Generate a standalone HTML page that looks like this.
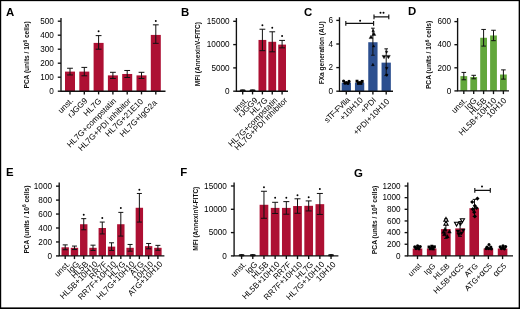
<!DOCTYPE html>
<html><head><meta charset="utf-8"><title>Figure</title>
<style>
html,body{margin:0;padding:0;background:#fff;}
body{width:520px;height:309px;overflow:hidden;position:relative;}
svg{position:absolute;left:0;top:0;display:block;will-change:transform;}
text{font-family:"Liberation Sans",sans-serif;fill:#000;}
.pl{font-size:11.4px;font-weight:bold;fill:#000;}
.tk{font-size:8.2px;text-anchor:end;}
.xl{font-size:8.2px;text-anchor:end;}
.yl{font-size:7.3px;text-anchor:middle;font-weight:bold;fill:#111;}
.st{font-size:7.4px;text-anchor:middle;font-weight:bold;fill:#000;}
.ax{stroke:#111;stroke-width:1.35;fill:none;}
.eb{stroke:#111;stroke-width:1.0;fill:none;}
.sg{stroke:#111;stroke-width:1.15;fill:none;}
</style></head><body>
<svg width="520" height="309" viewBox="0 0 520 309">
<rect x="0" y="0" width="520" height="309" fill="#fff"/>
<text x="6.0" y="15.7" class="pl">A</text>
<rect x="65.00" y="71.60" width="10.00" height="19.60" fill="#ad1033"/>
<path d="M70.00 68.24V74.96M67.10 68.24H72.90M67.10 74.96H72.90" class="eb"/>
<path d="M70.00 91.2v3.2" class="ax"/>
<text x="73.80" y="101.20" class="xl" transform="rotate(-45 73.80 101.20)">unst.</text>
<rect x="79.30" y="71.60" width="10.00" height="19.60" fill="#ad1033"/>
<path d="M84.30 67.40V75.80M81.40 67.40H87.20M81.40 75.80H87.20" class="eb"/>
<path d="M84.30 91.2v3.2" class="ax"/>
<text x="88.10" y="101.20" class="xl" transform="rotate(-45 88.10 101.20)">rJGG9</text>
<rect x="93.60" y="42.90" width="10.00" height="48.30" fill="#ad1033"/>
<path d="M98.60 35.62V49.20M95.70 35.62H101.50M95.70 49.20H101.50" class="eb"/>
<circle cx="98.60" cy="31.30" r="0.95" fill="#000"/>
<path d="M98.60 91.2v3.2" class="ax"/>
<text x="101.90" y="101.50" class="xl" transform="rotate(-45 101.90 101.50)">HL7G</text>
<rect x="107.90" y="75.38" width="10.00" height="15.82" fill="#ad1033"/>
<path d="M112.90 72.30V78.46M110.00 72.30H115.80M110.00 78.46H115.80" class="eb"/>
<path d="M112.90 91.2v3.2" class="ax"/>
<text x="116.70" y="101.50" class="xl" transform="rotate(-45 116.70 101.50)">HL7G+compstatin</text>
<rect x="122.20" y="73.98" width="10.00" height="17.22" fill="#ad1033"/>
<path d="M127.20 70.48V77.48M124.30 70.48H130.10M124.30 77.48H130.10" class="eb"/>
<path d="M127.20 91.2v3.2" class="ax"/>
<text x="131.50" y="101.50" class="xl" transform="rotate(-45 131.50 101.50)">HL7G+PDI inhibitor</text>
<rect x="136.50" y="75.38" width="10.00" height="15.82" fill="#ad1033"/>
<path d="M141.50 72.30V78.46M138.60 72.30H144.40M138.60 78.46H144.40" class="eb"/>
<path d="M141.50 91.2v3.2" class="ax"/>
<text x="143.80" y="102.00" class="xl" transform="rotate(-45 143.80 102.00)">HL7G+21E10</text>
<rect x="150.80" y="34.92" width="10.00" height="56.28" fill="#ad1033"/>
<path d="M155.80 24.84V43.32M152.90 24.84H158.70M152.90 43.32H158.70" class="eb"/>
<circle cx="155.80" cy="21.00" r="0.95" fill="#000"/>
<path d="M155.80 91.2v3.2" class="ax"/>
<text x="157.40" y="103.20" class="xl" transform="rotate(-45 157.40 103.20)">HL7G+IgG2a</text>
<path d="M61 18V91.2H165.5" class="ax"/>
<path d="M57.8 91.20H61" class="ax"/>
<text x="53.8" y="93.90" class="tk">0</text>
<path d="M57.8 77.20H61" class="ax"/>
<text x="53.8" y="79.90" class="tk">100</text>
<path d="M57.8 63.20H61" class="ax"/>
<text x="53.8" y="65.90" class="tk">200</text>
<path d="M57.8 49.20H61" class="ax"/>
<text x="53.8" y="51.90" class="tk">300</text>
<path d="M57.8 35.20H61" class="ax"/>
<text x="53.8" y="37.90" class="tk">400</text>
<path d="M57.8 21.20H61" class="ax"/>
<text x="53.8" y="23.90" class="tk">500</text>
<g transform="translate(29.3 54.9) rotate(-90)"><text class="yl" x="0" y="0" textLength="67.2" lengthAdjust="spacingAndGlyphs">PCA (units / 10<tspan dy="-2.6" font-size="5.2">6</tspan><tspan dy="2.6"> cells)</tspan></text></g>

<text x="180.9" y="15.7" class="pl">B</text>
<ellipse cx="242.70" cy="90.50" rx="3.1" ry="1.25" fill="#111"/>
<path d="M242.70 91.2v3.2" class="ax"/>
<text x="248.50" y="100.80" class="xl" transform="rotate(-45 248.50 100.80)">unst.</text>
<ellipse cx="252.55" cy="90.50" rx="3.1" ry="1.25" fill="#111"/>
<path d="M252.55 91.2v3.2" class="ax"/>
<text x="258.35" y="100.80" class="xl" transform="rotate(-45 258.35 100.80)">rJGG9</text>
<rect x="258.50" y="39.94" width="7.80" height="51.26" fill="#ad1033"/>
<path d="M262.40 29.22V50.66M259.50 29.22H265.30M259.50 50.66H265.30" class="eb"/>
<circle cx="262.40" cy="25.20" r="0.95" fill="#000"/>
<path d="M262.40 91.2v3.2" class="ax"/>
<text x="268.20" y="100.80" class="xl" transform="rotate(-45 268.20 100.80)">HL7G</text>
<rect x="268.35" y="41.80" width="7.80" height="49.40" fill="#ad1033"/>
<path d="M272.25 31.79V51.82M269.35 31.79H275.15M269.35 51.82H275.15" class="eb"/>
<circle cx="272.25" cy="27.80" r="0.95" fill="#000"/>
<path d="M272.25 91.2v3.2" class="ax"/>
<text x="278.05" y="100.80" class="xl" transform="rotate(-45 278.05 100.80)">HL7G+compstatin</text>
<rect x="278.20" y="44.60" width="7.80" height="46.60" fill="#ad1033"/>
<path d="M282.10 40.41V47.86M279.20 40.41H285.00M279.20 47.86H285.00" class="eb"/>
<circle cx="282.10" cy="36.00" r="0.95" fill="#000"/>
<path d="M282.10 91.2v3.2" class="ax"/>
<text x="287.90" y="100.80" class="xl" transform="rotate(-45 287.90 100.80)">HL7G+PDI inhibitor</text>
<path d="M236.4 18V91.2H288" class="ax"/>
<path d="M233.20000000000002 91.20H236.4" class="ax"/>
<text x="229.6" y="93.90" class="tk">0</text>
<path d="M233.20000000000002 67.90H236.4" class="ax"/>
<text x="229.6" y="70.60" class="tk">5000</text>
<path d="M233.20000000000002 44.60H236.4" class="ax"/>
<text x="229.6" y="47.30" class="tk">10000</text>
<path d="M233.20000000000002 21.30H236.4" class="ax"/>
<text x="229.6" y="24.00" class="tk">15000</text>
<g transform="translate(199.5 54.2) rotate(-90)"><text class="yl" x="0" y="0" textLength="64.2" lengthAdjust="spacingAndGlyphs">MFI (AnnexinV-FITC)</text></g>

<text x="304.0" y="15.8" class="pl">C</text>
<rect x="341.65" y="82.70" width="9.30" height="8.50" fill="#2c4f8f"/>
<path d="M346.30 91.2v3.2" class="ax"/>
<text x="350.10" y="100.60" class="xl" transform="rotate(-45 350.10 100.60)"><tspan letter-spacing="-0.5">sTF-FVIIa</tspan></text>
<rect x="354.95" y="82.70" width="9.30" height="8.50" fill="#2c4f8f"/>
<path d="M359.60 91.2v3.2" class="ax"/>
<text x="363.40" y="100.60" class="xl" transform="rotate(-45 363.40 100.60)">+10H10</text>
<rect x="368.25" y="42.23" width="9.30" height="48.97" fill="#2c4f8f"/>
<path d="M372.90 28.19V55.21M371.10 28.19H374.70M371.10 55.21H374.70" class="eb"/>
<path d="M372.90 91.2v3.2" class="ax"/>
<text x="376.70" y="100.60" class="xl" transform="rotate(-45 376.70 100.60)">+PDI</text>
<rect x="381.55" y="62.64" width="9.30" height="28.56" fill="#2c4f8f"/>
<path d="M386.20 48.84V75.62M384.40 48.84H388.00M384.40 75.62H388.00" class="eb"/>
<path d="M386.20 91.2v3.2" class="ax"/>
<text x="390.00" y="102.10" class="xl" transform="rotate(-45 390.00 102.10)">+PDI+10H10</text>
<path d="M339.5 17.2V91.2H393" class="ax"/>
<path d="M336.3 91.20H339.5" class="ax"/>
<text x="333.1" y="93.90" class="tk">0</text>
<path d="M336.3 67.60H339.5" class="ax"/>
<text x="333.1" y="70.30" class="tk">2</text>
<path d="M336.3 44.00H339.5" class="ax"/>
<text x="333.1" y="46.70" class="tk">4</text>
<path d="M336.3 20.40H339.5" class="ax"/>
<text x="333.1" y="23.10" class="tk">6</text>
<g transform="translate(323.5 52.8) rotate(-90)"><text class="yl" x="0" y="0" textLength="63" lengthAdjust="spacingAndGlyphs">FXa generation (AU)</text></g>
<path d="M345.8 23.4H373.6M345.8 21.0V25.799999999999997M373.6 21.0V25.799999999999997" class="sg"/><circle cx="360.10" cy="20.70" r="1.0" fill="#000"/><path d="M374.0 16.8H388.8M374.0 14.4V19.2M388.8 14.4V19.2" class="sg"/><circle cx="380.50" cy="12.70" r="1.0" fill="#000"/><circle cx="383.50" cy="12.70" r="1.0" fill="#000"/><circle cx="343.60" cy="81.00" r="1.6" fill="#000"/><circle cx="346.30" cy="82.60" r="1.6" fill="#000"/><circle cx="349.00" cy="81.40" r="1.6" fill="#000"/><circle cx="345.00" cy="83.20" r="1.6" fill="#000"/><circle cx="348.00" cy="83.40" r="1.6" fill="#000"/><rect x="355.55" y="79.75" width="2.9" height="2.9" fill="#000"/><rect x="358.15" y="81.15" width="2.9" height="2.9" fill="#000"/><rect x="360.75" y="79.95" width="2.9" height="2.9" fill="#000"/><rect x="356.95" y="81.95" width="2.9" height="2.9" fill="#000"/><rect x="359.55" y="81.95" width="2.9" height="2.9" fill="#000"/><path d="M373.90 32.00L375.80 35.42H372.00Z" fill="#000" stroke="#000" stroke-width="0.4"/><path d="M371.00 35.20L372.90 38.62H369.10Z" fill="#000" stroke="#000" stroke-width="0.4"/><path d="M373.20 29.30L374.50 31.64H371.90Z" fill="#000" stroke="#000" stroke-width="0.4"/><path d="M372.90 63.20L374.30 65.72H371.50Z" fill="#000" stroke="#000" stroke-width="0.4"/><path d="M373.60 44.80L374.80 46.96H372.40Z" fill="#000" stroke="#000" stroke-width="0.4"/><path d="M384.00 58.80L385.90 55.38H382.10Z" fill="#000" stroke="#000" stroke-width="0.4"/><path d="M388.40 58.80L390.30 55.38H386.50Z" fill="#000" stroke="#000" stroke-width="0.4"/><path d="M386.60 53.50L387.90 51.16H385.30Z" fill="#000" stroke="#000" stroke-width="0.4"/><path d="M386.70 69.80L388.10 67.28H385.30Z" fill="#000" stroke="#000" stroke-width="0.4"/><path d="M386.70 76.60L388.10 74.08H385.30Z" fill="#000" stroke="#000" stroke-width="0.4"/>
<text x="408.0" y="15.4" class="pl">D</text>
<rect x="460.40" y="76.12" width="6.80" height="14.78" fill="#62a73b"/>
<path d="M463.80 72.42V79.81M461.50 72.42H466.10M461.50 79.81H466.10" class="eb"/>
<path d="M463.80 90.9v3.2" class="ax"/>
<text x="467.30" y="101.10" class="xl" transform="rotate(-45 467.30 101.10)">unst.</text>
<rect x="470.30" y="77.04" width="6.80" height="13.86" fill="#62a73b"/>
<path d="M473.70 75.31V78.77M471.40 75.31H476.00M471.40 78.77H476.00" class="eb"/>
<path d="M473.70 90.9v3.2" class="ax"/>
<text x="477.20" y="101.10" class="xl" transform="rotate(-45 477.20 101.10)">IgG</text>
<rect x="480.20" y="37.77" width="6.80" height="53.13" fill="#62a73b"/>
<path d="M483.60 29.45V46.09M481.30 29.45H485.90M481.30 46.09H485.90" class="eb"/>
<path d="M483.60 90.9v3.2" class="ax"/>
<text x="487.10" y="101.10" class="xl" transform="rotate(-45 487.10 101.10)">HL5B</text>
<rect x="490.10" y="35.46" width="6.80" height="55.44" fill="#62a73b"/>
<path d="M493.50 30.26V40.66M491.20 30.26H495.80M491.20 40.66H495.80" class="eb"/>
<path d="M493.50 90.9v3.2" class="ax"/>
<text x="497.00" y="101.10" class="xl" transform="rotate(-45 497.00 101.10)">HL5B+10H10</text>
<rect x="500.00" y="74.50" width="6.80" height="16.40" fill="#62a73b"/>
<path d="M503.40 69.88V79.12M501.10 69.88H505.70M501.10 79.12H505.70" class="eb"/>
<path d="M503.40 90.9v3.2" class="ax"/>
<text x="506.90" y="101.10" class="xl" transform="rotate(-45 506.90 101.10)">10H10</text>
<path d="M457.6 18V90.9H509" class="ax"/>
<path d="M454.40000000000003 90.90H457.6" class="ax"/>
<text x="451.20000000000005" y="93.60" class="tk">0</text>
<path d="M454.40000000000003 67.80H457.6" class="ax"/>
<text x="451.20000000000005" y="70.50" class="tk">200</text>
<path d="M454.40000000000003 44.70H457.6" class="ax"/>
<text x="451.20000000000005" y="47.40" class="tk">400</text>
<path d="M454.40000000000003 21.60H457.6" class="ax"/>
<text x="451.20000000000005" y="24.30" class="tk">600</text>
<g transform="translate(431.3 54.9) rotate(-90)"><text class="yl" x="0" y="0" textLength="68.4" lengthAdjust="spacingAndGlyphs">PCA (units / 10<tspan dy="-2.6" font-size="5.2">6</tspan><tspan dy="2.6"> cells)</tspan></text></g>

<text x="6.0" y="175.9" class="pl">E</text>
<rect x="61.50" y="247.32" width="7.40" height="8.58" fill="#ad1033"/>
<path d="M65.20 244.88V249.76M62.70 244.88H67.70M62.70 249.76H67.70" class="eb"/>
<path d="M65.20 255.9v3.2" class="ax"/>
<text x="70.40" y="264.60" class="xl" transform="rotate(-45 70.40 264.60)">unst.</text>
<rect x="70.77" y="247.81" width="7.40" height="8.09" fill="#ad1033"/>
<path d="M74.47 246.07V249.55M71.97 246.07H76.97M71.97 249.55H76.97" class="eb"/>
<path d="M74.47 255.9v3.2" class="ax"/>
<text x="79.67" y="264.60" class="xl" transform="rotate(-45 79.67 264.60)">IgG</text>
<rect x="80.04" y="224.23" width="7.40" height="31.67" fill="#ad1033"/>
<path d="M83.74 218.65V229.81M81.24 218.65H86.24M81.24 229.81H86.24" class="eb"/>
<circle cx="83.74" cy="214.70" r="0.95" fill="#000"/>
<path d="M83.74 255.9v3.2" class="ax"/>
<text x="88.94" y="264.60" class="xl" transform="rotate(-45 88.94 264.60)">HL5B</text>
<rect x="89.31" y="247.81" width="7.40" height="8.09" fill="#ad1033"/>
<path d="M93.01 245.16V250.46M90.51 245.16H95.51M90.51 250.46H95.51" class="eb"/>
<path d="M93.01 255.9v3.2" class="ax"/>
<text x="98.21" y="264.60" class="xl" transform="rotate(-45 98.21 264.60)">HL5B+10H10</text>
<rect x="98.58" y="228.00" width="7.40" height="27.90" fill="#ad1033"/>
<path d="M102.28 222.07V233.93M99.78 222.07H104.78M99.78 233.93H104.78" class="eb"/>
<circle cx="102.28" cy="218.00" r="0.95" fill="#000"/>
<path d="M102.28 255.9v3.2" class="ax"/>
<text x="107.48" y="264.60" class="xl" transform="rotate(-45 107.48 264.60)">RR7F</text>
<rect x="107.85" y="246.62" width="7.40" height="9.28" fill="#ad1033"/>
<path d="M111.55 242.79V250.46M109.05 242.79H114.05M109.05 250.46H114.05" class="eb"/>
<path d="M111.55 255.9v3.2" class="ax"/>
<text x="116.75" y="264.60" class="xl" transform="rotate(-45 116.75 264.60)">RR7F+10H10</text>
<rect x="117.12" y="224.23" width="7.40" height="31.67" fill="#ad1033"/>
<path d="M120.82 212.38V236.09M118.32 212.38H123.32M118.32 236.09H123.32" class="eb"/>
<circle cx="120.82" cy="208.00" r="0.95" fill="#000"/>
<path d="M120.82 255.9v3.2" class="ax"/>
<text x="126.02" y="264.60" class="xl" transform="rotate(-45 126.02 264.60)">HL7G</text>
<rect x="126.39" y="247.81" width="7.40" height="8.09" fill="#ad1033"/>
<path d="M130.09 244.46V251.16M127.59 244.46H132.59M127.59 251.16H132.59" class="eb"/>
<path d="M130.09 255.9v3.2" class="ax"/>
<text x="135.29" y="264.60" class="xl" transform="rotate(-45 135.29 264.60)">HL7G+10H10</text>
<rect x="135.66" y="207.77" width="7.40" height="48.13" fill="#ad1033"/>
<path d="M139.36 193.47V222.07M136.86 193.47H141.86M136.86 222.07H141.86" class="eb"/>
<circle cx="139.36" cy="189.70" r="0.95" fill="#000"/>
<path d="M139.36 255.9v3.2" class="ax"/>
<text x="144.56" y="264.60" class="xl" transform="rotate(-45 144.56 264.60)">ATG</text>
<rect x="144.93" y="246.13" width="7.40" height="9.77" fill="#ad1033"/>
<path d="M148.63 243.48V248.79M146.13 243.48H151.13M146.13 248.79H151.13" class="eb"/>
<path d="M148.63 255.9v3.2" class="ax"/>
<text x="153.83" y="264.60" class="xl" transform="rotate(-45 153.83 264.60)">10H10</text>
<rect x="154.20" y="247.81" width="7.40" height="8.09" fill="#ad1033"/>
<path d="M157.90 245.37V250.25M155.40 245.37H160.40M155.40 250.25H160.40" class="eb"/>
<path d="M157.90 255.9v3.2" class="ax"/>
<text x="163.10" y="264.60" class="xl" transform="rotate(-45 163.10 264.60)">ATG+10H10</text>
<path d="M59.2 182.6V255.9H164.4" class="ax"/>
<path d="M56.0 255.90H59.2" class="ax"/>
<text x="52.0" y="258.60" class="tk">0</text>
<path d="M56.0 241.95H59.2" class="ax"/>
<text x="52.0" y="244.65" class="tk">200</text>
<path d="M56.0 228.00H59.2" class="ax"/>
<text x="52.0" y="230.70" class="tk">400</text>
<path d="M56.0 214.05H59.2" class="ax"/>
<text x="52.0" y="216.75" class="tk">600</text>
<path d="M56.0 200.10H59.2" class="ax"/>
<text x="52.0" y="202.80" class="tk">800</text>
<path d="M56.0 186.15H59.2" class="ax"/>
<text x="52.0" y="188.85" class="tk">1000</text>
<g transform="translate(28.5 219.6) rotate(-90)"><text class="yl" x="0" y="0" textLength="68" lengthAdjust="spacingAndGlyphs">PCA (units / 10<tspan dy="-2.6" font-size="5.2">6</tspan><tspan dy="2.6"> cells)</tspan></text></g>

<text x="180.2" y="175.9" class="pl">F</text>
<ellipse cx="241.60" cy="255.20" rx="3.1" ry="1.25" fill="#111"/>
<path d="M241.60 255.9v3.2" class="ax"/>
<text x="246.80" y="264.90" class="xl" transform="rotate(-45 246.80 264.90)">unst.</text>
<ellipse cx="252.78" cy="255.20" rx="3.1" ry="1.25" fill="#111"/>
<path d="M252.78 255.9v3.2" class="ax"/>
<text x="257.98" y="264.90" class="xl" transform="rotate(-45 257.98 264.90)">IgG</text>
<rect x="259.61" y="204.78" width="8.70" height="51.12" fill="#ad1033"/>
<path d="M263.96 191.27V218.29M260.96 191.27H266.96M260.96 218.29H266.96" class="eb"/>
<circle cx="263.96" cy="187.20" r="0.95" fill="#000"/>
<path d="M263.96 255.9v3.2" class="ax"/>
<text x="269.16" y="264.90" class="xl" transform="rotate(-45 269.16 264.90)">HL5B</text>
<rect x="270.79" y="207.90" width="8.70" height="48.00" fill="#ad1033"/>
<path d="M275.14 202.31V213.49M272.14 202.31H278.14M272.14 213.49H278.14" class="eb"/>
<circle cx="275.14" cy="197.80" r="0.95" fill="#000"/>
<path d="M275.14 255.9v3.2" class="ax"/>
<text x="280.34" y="264.90" class="xl" transform="rotate(-45 280.34 264.90)">HL5B+10H10</text>
<rect x="281.97" y="207.90" width="8.70" height="48.00" fill="#ad1033"/>
<path d="M286.32 201.61V214.19M283.32 201.61H289.32M283.32 214.19H289.32" class="eb"/>
<circle cx="286.32" cy="197.80" r="0.95" fill="#000"/>
<path d="M286.32 255.9v3.2" class="ax"/>
<text x="291.52" y="264.90" class="xl" transform="rotate(-45 291.52 264.90)">RR7F</text>
<rect x="293.15" y="206.04" width="8.70" height="49.86" fill="#ad1033"/>
<path d="M297.50 198.81V213.26M294.50 198.81H300.50M294.50 213.26H300.50" class="eb"/>
<circle cx="297.50" cy="195.30" r="0.95" fill="#000"/>
<path d="M297.50 255.9v3.2" class="ax"/>
<text x="302.70" y="264.90" class="xl" transform="rotate(-45 302.70 264.90)">RR7F+10H10</text>
<rect x="304.33" y="205.81" width="8.70" height="50.09" fill="#ad1033"/>
<path d="M308.68 200.91V210.93M305.68 200.91H311.68M305.68 210.93H311.68" class="eb"/>
<circle cx="308.68" cy="197.30" r="0.95" fill="#000"/>
<path d="M308.68 255.9v3.2" class="ax"/>
<text x="313.88" y="264.90" class="xl" transform="rotate(-45 313.88 264.90)">HL7G</text>
<rect x="315.51" y="204.17" width="8.70" height="51.73" fill="#ad1033"/>
<path d="M319.86 193.46V214.43M316.86 193.46H322.86M316.86 214.43H322.86" class="eb"/>
<circle cx="319.86" cy="189.00" r="0.95" fill="#000"/>
<path d="M319.86 255.9v3.2" class="ax"/>
<text x="325.06" y="264.90" class="xl" transform="rotate(-45 325.06 264.90)">HL7G+10H10</text>
<ellipse cx="331.04" cy="255.20" rx="3.1" ry="1.25" fill="#111"/>
<path d="M331.04 255.9v3.2" class="ax"/>
<text x="336.24" y="264.90" class="xl" transform="rotate(-45 336.24 264.90)">10H10</text>
<path d="M234.1 182.6V255.9H338.4" class="ax"/>
<path d="M230.9 255.90H234.1" class="ax"/>
<text x="226.9" y="258.60" class="tk">0</text>
<path d="M230.9 232.60H234.1" class="ax"/>
<text x="226.9" y="235.30" class="tk">5000</text>
<path d="M230.9 209.30H234.1" class="ax"/>
<text x="226.9" y="212.00" class="tk">10000</text>
<path d="M230.9 186.00H234.1" class="ax"/>
<text x="226.9" y="188.70" class="tk">15000</text>
<g transform="translate(198.3 218.7) rotate(-90)"><text class="yl" x="0" y="0" textLength="64" lengthAdjust="spacingAndGlyphs">MFI (AnnexinV-FITC)</text></g>

<text x="354.0" y="176.5" class="pl">G</text>
<rect x="412.70" y="248.50" width="9.60" height="7.40" fill="#ad1033"/>
<path d="M417.50 255.9v3.2" class="ax"/>
<text x="421.80" y="266.50" class="xl" style="font-size:7.8px" transform="rotate(-45 421.80 266.50)">unst</text>
<rect x="426.88" y="248.50" width="9.60" height="7.40" fill="#ad1033"/>
<path d="M431.68 255.9v3.2" class="ax"/>
<text x="435.98" y="266.50" class="xl" style="font-size:7.8px" transform="rotate(-45 435.98 266.50)">IgG</text>
<rect x="441.06" y="229.11" width="9.60" height="26.80" fill="#ad1033"/>
<path d="M445.86 255.9v3.2" class="ax"/>
<text x="450.16" y="266.50" class="xl" style="font-size:7.8px" transform="rotate(-45 450.16 266.50)">HL5B</text>
<rect x="455.24" y="228.41" width="9.60" height="27.49" fill="#ad1033"/>
<path d="M460.04 255.9v3.2" class="ax"/>
<text x="464.34" y="266.50" class="xl" style="font-size:7.8px" transform="rotate(-45 464.34 266.50)">HL5B+<tspan font-size="9">&#945;</tspan>C5</text>
<rect x="469.42" y="208.13" width="9.60" height="47.77" fill="#ad1033"/>
<path d="M474.22 255.9v3.2" class="ax"/>
<text x="478.52" y="266.50" class="xl" style="font-size:7.8px" transform="rotate(-45 478.52 266.50)">ATG</text>
<rect x="483.60" y="248.50" width="9.60" height="7.40" fill="#ad1033"/>
<path d="M488.40 255.9v3.2" class="ax"/>
<text x="492.70" y="266.50" class="xl" style="font-size:7.8px" transform="rotate(-45 492.70 266.50)">ATG+<tspan font-size="9">&#945;</tspan>C5</text>
<rect x="497.78" y="248.50" width="9.60" height="7.40" fill="#ad1033"/>
<path d="M502.58 255.9v3.2" class="ax"/>
<text x="506.88" y="266.50" class="xl" style="font-size:7.8px" transform="rotate(-45 506.88 266.50)"><tspan font-size="9">&#945;</tspan>C5</text>
<path d="M407.8 182.6V255.9H513" class="ax"/>
<path d="M404.6 255.90H407.8" class="ax"/>
<text x="400.6" y="258.60" class="tk">0</text>
<path d="M404.6 244.25H407.8" class="ax"/>
<text x="400.6" y="246.95" class="tk">200</text>
<path d="M404.6 232.60H407.8" class="ax"/>
<text x="400.6" y="235.30" class="tk">400</text>
<path d="M404.6 220.95H407.8" class="ax"/>
<text x="400.6" y="223.65" class="tk">600</text>
<path d="M404.6 209.30H407.8" class="ax"/>
<text x="400.6" y="212.00" class="tk">800</text>
<path d="M404.6 197.65H407.8" class="ax"/>
<text x="400.6" y="200.35" class="tk">1000</text>
<path d="M404.6 186.00H407.8" class="ax"/>
<text x="400.6" y="188.70" class="tk">1200</text>
<g transform="translate(377.2 219.9) rotate(-90)"><text class="yl" x="0" y="0" textLength="68.5" lengthAdjust="spacingAndGlyphs">PCA (units / 10<tspan dy="-2.6" font-size="5.2">6</tspan><tspan dy="2.6"> cells)</tspan></text></g>
<path d="M474.8 190.4H490.3M474.8 188.0V192.8M490.3 188.0V192.8" class="sg"/><circle cx="482.00" cy="186.60" r="1.0" fill="#000"/><path d="M445.90 219.00V238.50M444.10 219.00H447.70M444.10 238.50H447.70" class="eb"/><path d="M460.10 221.50V236.50M458.30 221.50H461.90M458.30 236.50H461.90" class="eb"/><path d="M474.50 199.40V216.40M472.70 199.40H476.30M472.70 216.40H476.30" class="eb"/><circle cx="414.80" cy="246.80" r="1.6" fill="#000"/><circle cx="417.50" cy="247.80" r="1.6" fill="#000"/><circle cx="420.20" cy="246.60" r="1.6" fill="#000"/><circle cx="416.00" cy="248.60" r="1.6" fill="#000"/><circle cx="419.00" cy="248.80" r="1.6" fill="#000"/><circle cx="417.60" cy="245.80" r="1.6" fill="#000"/><rect x="427.55" y="245.55" width="2.9" height="2.9" fill="#000"/><rect x="430.25" y="246.55" width="2.9" height="2.9" fill="#000"/><rect x="432.95" y="245.35" width="2.9" height="2.9" fill="#000"/><rect x="428.85" y="247.35" width="2.9" height="2.9" fill="#000"/><rect x="431.75" y="247.45" width="2.9" height="2.9" fill="#000"/><rect x="430.35" y="244.75" width="2.9" height="2.9" fill="#000"/><path d="M446.00 217.50L448.10 221.28H443.90Z" fill="#fff" stroke="#000" stroke-width="1.1"/><path d="M446.00 221.30L448.10 225.08H443.90Z" fill="#fff" stroke="#000" stroke-width="1.1"/><path d="M445.00 227.30L446.90 230.72H443.10Z" fill="#000" stroke="#000" stroke-width="0.4"/><path d="M449.40 229.70L451.30 233.12H447.50Z" fill="#000" stroke="#000" stroke-width="0.4"/><path d="M444.40 232.30L446.30 235.72H442.50Z" fill="#000" stroke="#000" stroke-width="0.4"/><path d="M447.40 234.50L449.30 237.92H445.50Z" fill="#000" stroke="#000" stroke-width="0.4"/><path d="M443.60 229.90L445.50 233.32H441.70Z" fill="#000" stroke="#000" stroke-width="0.4"/><path d="M456.60 226.10L458.70 222.32H454.50Z" fill="#fff" stroke="#000" stroke-width="1.1"/><path d="M462.40 222.50L464.50 218.72H460.30Z" fill="#fff" stroke="#000" stroke-width="1.1"/><path d="M460.40 226.10L462.30 222.68H458.50Z" fill="#000" stroke="#000" stroke-width="0.4"/><path d="M458.00 233.50L459.90 230.08H456.10Z" fill="#000" stroke="#000" stroke-width="0.4"/><path d="M463.20 232.30L465.10 228.88H461.30Z" fill="#000" stroke="#000" stroke-width="0.4"/><path d="M458.80 236.50L460.70 233.08H456.90Z" fill="#000" stroke="#000" stroke-width="0.4"/><path d="M461.40 235.30L463.30 231.88H459.50Z" fill="#000" stroke="#000" stroke-width="0.4"/><path d="M477.40 196.50L479.50 198.60L477.40 200.70L475.30 198.60Z" fill="#000"/><path d="M472.20 199.90L474.30 202.00L472.20 204.10L470.10 202.00Z" fill="#000"/><path d="M474.80 203.70L476.90 205.80L474.80 207.90L472.70 205.80Z" fill="#000"/><path d="M476.60 205.90L478.70 208.00L476.60 210.10L474.50 208.00Z" fill="#000"/><path d="M474.20 210.10L476.30 212.20L474.20 214.30L472.10 212.20Z" fill="#000"/><path d="M474.80 214.30L476.90 216.40L474.80 218.50L472.70 216.40Z" fill="#000"/><path d="M472.80 207.10L474.90 209.20L472.80 211.30L470.70 209.20Z" fill="#000"/><circle cx="489.00" cy="244.40" r="1.5" fill="#000"/><circle cx="487.00" cy="247.00" r="1.6" fill="#000"/><circle cx="490.80" cy="247.00" r="1.6" fill="#000"/><circle cx="488.60" cy="248.60" r="1.6" fill="#000"/><circle cx="486.20" cy="248.60" r="1.6" fill="#000"/><circle cx="491.40" cy="248.80" r="1.6" fill="#000"/><circle cx="500.20" cy="246.80" r="1.6" fill="#000"/><circle cx="502.90" cy="247.80" r="1.6" fill="#000"/><circle cx="505.60" cy="246.60" r="1.6" fill="#000"/><circle cx="501.40" cy="248.60" r="1.6" fill="#000"/><circle cx="504.40" cy="248.80" r="1.6" fill="#000"/><circle cx="503.00" cy="245.80" r="1.6" fill="#000"/>
<rect x="0" y="0" width="520" height="1.15" fill="#000"/>
<rect x="0" y="0" width="1.2" height="309" fill="#000"/>
<rect x="518.65" y="0" width="1.35" height="309" fill="#000"/>
<rect x="0" y="307.4" width="520" height="1.6" fill="#000"/>
</svg>
</body></html>
